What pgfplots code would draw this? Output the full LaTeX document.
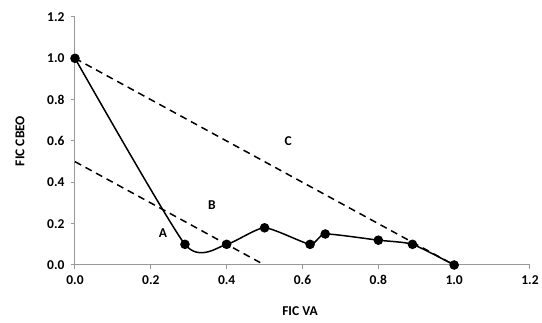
\documentclass[border=0pt]{standalone}
\usepackage{pgfplots}
\pgfplotsset{compat=1.18}
\usepackage{fontspec}
\setmainfont{Carlito}[BoldFont={Carlito Bold}]
\newcommand{\lf}{\fontsize{13.5}{15}\selectfont\bfseries}
\begin{document}
\begin{tikzpicture}[x=1pt,y=1pt]
\useasboundingbox (-75,-58) rectangle (467,265);
\begin{axis}[
  at={(0,0)}, anchor=south west,
  scale only axis, width=455pt, height=248pt,
  xmin=0, xmax=1.2, ymin=0, ymax=1.2,
  xtick={0,0.2,...,1.2}, ytick={0,0.2,...,1.2},
  axis lines=left, axis line style={gray!80, line width=1pt, -},
  tick style={gray!80, line width=1pt},
  tick align=outside, major tick length=4pt,
  xticklabel style={yshift=-3pt, /pgf/number format/.cd, fixed, fixed zerofill, precision=1},
  yticklabel style={xshift=-3pt, /pgf/number format/.cd, fixed, fixed zerofill, precision=1},
  /pgf/number format/assume math mode=true,
  ticklabel style={font=\lf},
  clip=false,
]
\addplot[black, line width=1.5pt, dash pattern=on 7pt off 5pt] coordinates {(0,1) (1,0)};
\addplot[black, line width=1.5pt, dash pattern=on 7pt off 5pt] coordinates {(0,0.5) (0.5,0)};
\addplot[black, line width=1.5pt, smooth, tension=0.35, mark=*, mark size=4pt] coordinates {
(0,1) (0.29,0.1) (0.4,0.1) (0.5,0.18) (0.62,0.1) (0.66,0.15) (0.8,0.12) (0.89,0.1) (1.0,0)};
\node[font=\lf] at (axis cs:0.232,0.155) {A};
\node[font=\lf] at (axis cs:0.361,0.29) {B};
\node[font=\lf] at (axis cs:0.562,0.60) {C};
\node[font=\lf] at ([xshift=225pt,yshift=-46pt]axis description cs:0,0) {FIC VA};
\node[font=\lf, rotate=90] at ([xshift=-55pt]axis description cs:0,0.5) {FIC CBEO};
\end{axis}
\end{tikzpicture}
\end{document}
